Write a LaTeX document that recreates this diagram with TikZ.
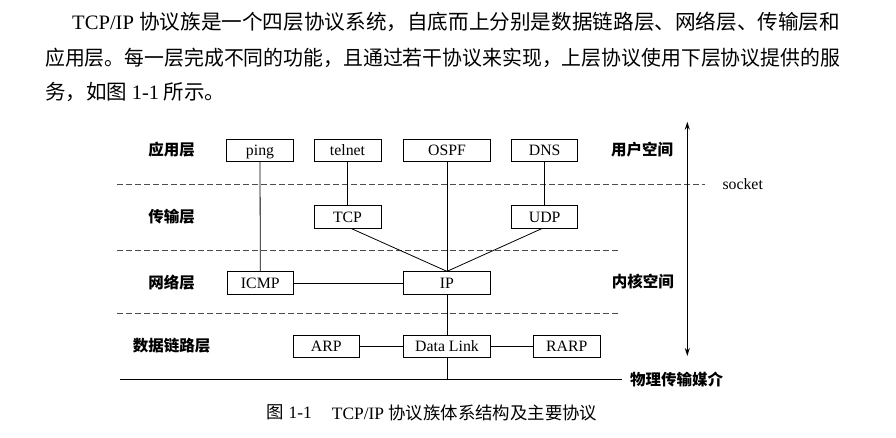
\documentclass[tikz,border=0pt]{standalone}
\usepackage{fontspec}
\usepackage{graphicx}
\setmainfont{Liberation Serif}
\newfontfamily\cjk{Noto Sans CJK SC}
\usetikzlibrary{arrows.meta}
\begin{document}
\begin{tikzpicture}[x=1pt,y=-1pt,
  proto/.style={draw, line width=0.8pt, minimum height=22.5pt, inner sep=0pt,
    text height=10.4pt, text depth=0pt,
    font=\fontsize{15.8}{16}\selectfont},
  layer/.style={font=\fontsize{15.5}{16}\selectfont\cjk\bfseries, inner sep=0pt},
  para/.style={font=\fontsize{20.5}{22}\selectfont, anchor=west, inner sep=0pt},
  link/.style={line width=0.8pt},
  sep/.style={line width=1pt, dash pattern=on 6pt off 3pt, gray!60!black}]
\useasboundingbox (0,0) rectangle (896,437);
% paragraph
\node[para] (p1) at (72,22) {\resizebox{768pt}{\height}{TCP/IP {\cjk 协议族是一个四层协议系统，自底而上分别是数据链路层、网络层、传输层和}}};
\node[para] (p2) at (45,58) {\resizebox{795pt}{\height}{\cjk 应用层。每一层完成不同的功能，且通过若干协议来实现，上层协议使用下层协议提供的服}};
\node[para] (p3) at (45,92) {\cjk 务，如图 {\rmfamily 1-1} 所示。};
% separators
\coordinate (s1a) at (117,184); \coordinate (s1b) at (705,184);
\coordinate (s2a) at (117,250); \coordinate (s2b) at (620,250);
\coordinate (s3a) at (117,313.3); \coordinate (s3b) at (620,313.3);
\draw[sep] (s1a) -- (s1b);
\draw[sep] (s2a) -- (s2b);
\draw[sep] (s3a) -- (s3b);
% boxes
\node[proto, minimum width=66.6pt] (ping) at (260,150.3) {ping};
\node[proto, minimum width=67pt] (telnet) at (347.5,150.3) {telnet};
\node[proto, minimum width=87.7pt] (ospf) at (447,150.3) {OSPF};
\node[proto, minimum width=66pt] (dns) at (544.7,150.3) {DNS};
\node[proto, minimum width=67pt] (tcp) at (347.5,217) {TCP};
\node[proto, minimum width=66pt] (udp) at (544.7,217) {UDP};
\node[proto, minimum width=66pt] (icmp) at (260.3,283) {ICMP};
\node[proto, minimum width=87.7pt] (ip) at (447,283) {IP};
\node[proto, minimum width=66pt] (arp) at (326.3,346.3) {ARP};
\node[proto, minimum width=87.7pt] (dl) at (447,346.3) {Data Link};
\node[proto, minimum width=66.7pt] (rarp) at (566.7,346.3) {RARP};
% layer labels
\node[layer] (l1) at (171.5,150) {应用层};
\node[layer] (l2) at (171.5,217) {传输层};
\node[layer] (l3) at (171.5,282.3) {网络层};
\node[layer] (l4) at (171.5,346) {数据链路层};
\node[layer] (us) at (642,150) {用户空间};
\node[layer] (ks) at (642.8,282) {内核空间};
\node[inner sep=0pt, font=\fontsize{15.8}{16}\selectfont] (sock) at (742.7,184) {socket};
\node[layer, anchor=west] (phy) at (630,379.3) {物理传输媒介};
% physical medium line
\coordinate (m1) at (120,379.3); \coordinate (m2) at (621.7,379.3);
\draw[link] (m1) -- (m2);
\coordinate (dlm) at (447,379.3);
% connectors
\draw[link] (ping.south) -- (icmp.north);
\draw[link] (telnet.south) -- (tcp.north);
\draw[link] (dns.south) -- (udp.north);
\draw[link] (ospf.south) -- (ip.north);
\draw[link] ([xshift=4pt]tcp.south) -- (ip.north);
\draw[link] ([xshift=-3pt]udp.south) -- (ip.north);
\draw[link] (icmp.east) -- (ip.west);
\draw[link] (ip.south) -- (dl.north);
\draw[link] (arp.east) -- (dl.west);
\draw[link] (dl.east) -- (rarp.west);
\draw[link] (dl.south) -- (dlm);
% user/kernel arrow
\coordinate (at) at (687.3,121.7); \coordinate (ab) at (687.3,356);
\draw[line width=1.5pt, {Stealth[length=8pt,width=5pt]}-{Stealth[length=8pt,width=5pt]}] (at) -- (ab);
% caption
\node[anchor=west, inner sep=0pt, font=\fontsize{17.4}{18}\selectfont] (cap1) at (266.7,412.7) {{\cjk 图} 1-1};
\node[anchor=west, inner sep=0pt, font=\fontsize{17.4}{18}\selectfont] (cap2) at (331.7,412.7) {TCP/IP {\cjk 协议族体系结构及主要协议}};
\end{tikzpicture}
\end{document}
